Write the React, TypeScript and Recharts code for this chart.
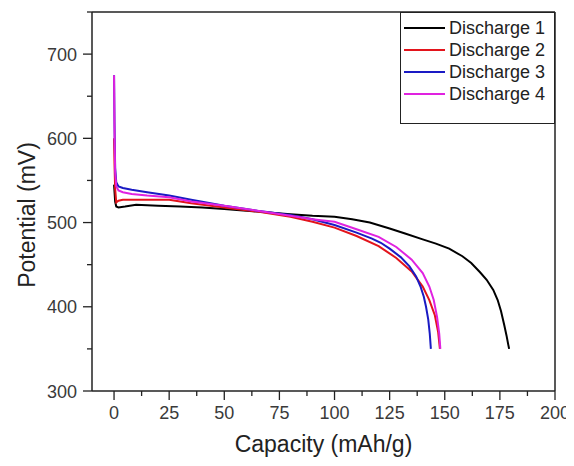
import React from "react";
import { LineChart, Line, XAxis, YAxis, ReferenceLine, Legend, Label } from "recharts";

const seriesNames = ["Discharge 1", "Discharge 2", "Discharge 3", "Discharge 4"];
const seriesColors = ["#000000", "#e3141c", "#1a1ac4", "#e022e0"];

const cap1 = [0, 0.5, 1, 2, 5, 10, 20, 30, 40, 50, 60, 70, 80, 90, 100, 108, 116, 125, 132, 140, 146, 152, 158, 162, 166, 169, 172, 174, 175.5, 177, 178, 178.8, 179.2];
const pot1 = [545, 525, 519, 518, 519, 521, 520, 519, 518, 516, 514, 512, 510, 508, 507, 504, 500, 493, 487, 480, 475, 469, 460, 452, 441, 432, 420, 408, 395, 378, 366, 355, 350];

const cap2 = [0, 0.2, 0.5, 1, 2, 4, 8, 15, 25, 35, 50, 65, 80, 90, 100, 110, 120, 128, 135, 140, 143, 145.5, 147, 147.8];
const pot2 = [600, 570, 540, 524, 526, 527, 527, 527, 527, 523, 518, 513, 507, 501, 494, 484, 472, 458, 442, 424, 408, 390, 370, 350];

const cap3 = [0, 0.2, 0.5, 1, 2, 4, 8, 15, 25, 35, 50, 65, 80, 90, 100, 110, 117, 121, 125, 130, 134, 137, 139, 140.5, 141.5, 142.5, 143.2, 143.7];
const pot3 = [675, 620, 565, 548, 543, 541, 539, 536, 532, 527, 520, 514, 509, 504, 497, 488, 481, 476, 469, 459, 448, 436, 424, 412, 400, 385, 368, 350];

const cap4 = [0, 0.2, 0.5, 1, 2, 4, 8, 15, 25, 35, 50, 65, 80, 90, 100, 110, 120, 128, 135, 140, 143, 145, 146.5, 147.5, 148];
const pot4 = [675, 610, 560, 543, 538, 536, 534, 532, 530, 525, 520, 514, 508, 504, 501, 492, 483, 471, 456, 440, 424, 408, 388, 368, 350];

const xTicks = [0, 12.5, 25, 37.5, 50, 62.5, 75, 87.5, 100, 112.5, 125, 137.5, 150, 162.5, 175, 187.5, 200];
const yTicks = [300, 350, 400, 450, 500, 550, 600, 650, 700, 750];
const xMajor = [0, 25, 50, 75, 100, 125, 150, 175, 200];
const yMajor = [300, 400, 500, 600, 700];

const caps = [cap1, cap2, cap3, cap4];
const pots = [pot1, pot2, pot3, pot4];
const seriesData = caps.map((c, i) => c.map((x, j) => ({ cap: x, pot: pots[i][j] })));

const FONT = "'Liberation Sans', Arial, sans-serif";

const XTick = (props: any) => {
  const { x, y, payload } = props;
  const v = payload.value;
  const major = xMajor.includes(v);
  return (
    <g>
      <line x1={x} x2={x} y1={y} y2={y + (major ? 9 : 5)} stroke="#222" strokeWidth={1.3} />
      {major && (
        <text x={x} y={y + 27.5} textAnchor="middle" fontSize={18} fill="#3a3a3a" fontFamily={FONT}>
          {v}
        </text>
      )}
    </g>
  );
};

const YTick = (props: any) => {
  const { x, y, payload } = props;
  const v = payload.value;
  const major = yMajor.includes(v);
  return (
    <g>
      <line x1={x - (major ? 9 : 5)} x2={x} y1={y} y2={y} stroke="#222" strokeWidth={1.3} />
      {major && (
        <text x={x - 15} y={y + 6.5} textAnchor="end" fontSize={18} fill="#3a3a3a" fontFamily={FONT}>
          {v}
        </text>
      )}
    </g>
  );
};

const LegendBox = () => (
  <div
    style={{
      position: "relative",
      width: 155,
      height: 112,
      border: "1px solid #222",
      boxSizing: "border-box",
      background: "#fff",
      fontFamily: FONT,
    }}
  >
    {seriesNames.map((n, i) => (
      <div key={n} style={{ position: "absolute", left: 0, top: 4 + i * 22, height: 22, width: 153 }}>
        <svg width={44} height={22} style={{ position: "absolute", left: 2, top: 0 }}>
          <line x1={1} x2={42} y1={11} y2={11} stroke={seriesColors[i]} strokeWidth={2} />
        </svg>
        <span style={{ position: "absolute", left: 48, top: 0, lineHeight: "22px", fontSize: 18, color: "#222", whiteSpace: "nowrap" }}>
          {n}
        </span>
      </div>
    ))}
  </div>
);

export default function App() {
  return (
    <LineChart width={566} height={450} margin={{ top: 4, right: 19, bottom: 0, left: 0 }}>
      <XAxis
        type="number"
        dataKey="cap"
        domain={[-10, 200]}
        ticks={xTicks}
        interval={0}
        height={67}
        tickSize={0}
        tickMargin={0}
        tickLine={false}
        tick={<XTick />}
        axisLine={{ stroke: "#222", strokeWidth: 1.5 }}
        allowDuplicatedCategory={false}
      >
        <Label
          content={() => (
            <text x={315.5} y={444} textAnchor="middle" fontSize={23} fill="#222" fontFamily={FONT}>
              Capacity (mAh/g)
            </text>
          )}
        />
      </XAxis>
      <YAxis
        type="number"
        dataKey="pot"
        domain={[300, 750]}
        ticks={yTicks}
        interval={0}
        width={84}
        tickSize={0}
        tickMargin={0}
        tickLine={false}
        tick={<YTick />}
        axisLine={{ stroke: "#222", strokeWidth: 1.5 }}
      >
        <Label
          content={() => (
            <text
              x={19}
              y={207}
              textAnchor="middle"
              dominantBaseline="central"
              fontSize={23}
              fill="#222"
              fontFamily={FONT}
              transform="rotate(-90 19 207)"
            >
              Potential (mV)
            </text>
          )}
        />
      </YAxis>
      <ReferenceLine y={750} stroke="#222" strokeWidth={1.5} />
      <ReferenceLine x={200} stroke="#222" strokeWidth={1.5} />
      {seriesData.map((d, i) => (
        <Line
          key={seriesNames[i]}
          data={d}
          dataKey="pot"
          name={seriesNames[i]}
          type="linear"
          stroke={seriesColors[i]}
          strokeWidth={2}
          dot={false}
          isAnimationActive={false}
        />
      ))}
      <Legend
        layout="vertical"
        align="center"
        verticalAlign="middle"
        wrapperStyle={{ left: 392, top: 4, width: 155, height: 112 }}
        content={() => <LegendBox />}
      />
    </LineChart>
  );
}
